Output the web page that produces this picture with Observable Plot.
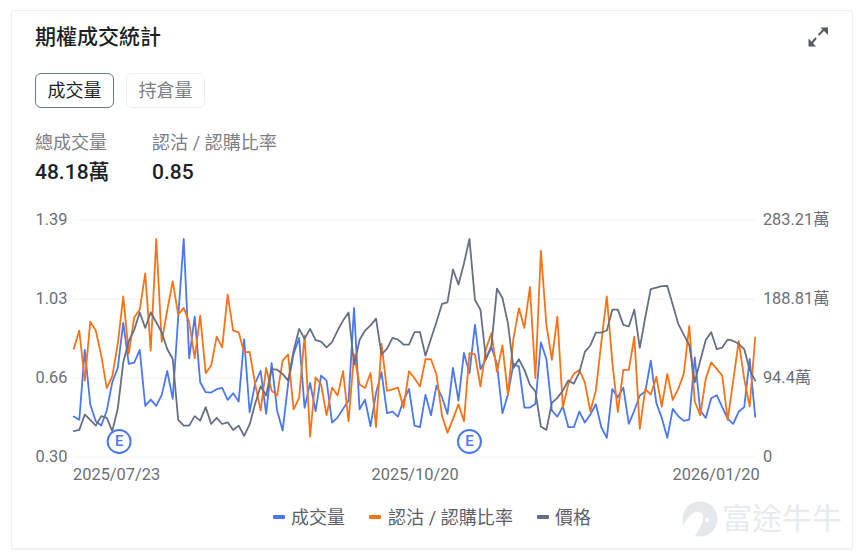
<!DOCTYPE html>
<html>
<head>
<meta charset="utf-8">
<script src="https://cdn.jsdelivr.net/npm/d3@7"></script>
<script src="https://cdn.jsdelivr.net/npm/@observablehq/plot@0.6"></script>
<style>
html,body{margin:0;padding:0;background:#fff;}
body{width:861px;height:556px;position:relative;overflow:hidden;font-family:Roboto,"Noto Sans CJK TC",sans-serif;}
.abs{position:absolute;white-space:nowrap;line-height:1;}
#card{position:absolute;left:11px;top:10px;width:840px;height:537px;border:1px solid #eeeff1;border-radius:2px;box-shadow:0 1px 1px rgba(0,0,0,.04);}
.btn{position:absolute;top:73px;height:35px;box-sizing:border-box;border-radius:6px;font-size:18px;line-height:34px;text-align:center;}
.sw{position:absolute;width:12px;height:4px;top:515px;border-radius:1px;}
#chart{position:absolute;left:0;top:200px;}
#chart svg{display:block;overflow:visible;}
</style>
</head>
<body>
<div id="card"></div>
<div class="abs" style="left:35px;top:27px;font-size:21px;font-weight:500;color:#1c1f24;">期權成交統計</div>
<svg class="abs" style="left:806px;top:25px;" width="24" height="24" viewBox="0 0 24 24">
  <path d="M12.5 10 L18 4.5" stroke="#555a62" stroke-width="2" fill="none"/><path d="M14.5 2.5 H22 V10 Z" fill="#555a62"/>
  <path d="M10 13 L5 19" stroke="#555a62" stroke-width="2" fill="none"/><path d="M2.5 13.5 V21.5 H10 Z" fill="#555a62"/>
</svg>
<div class="btn" style="left:35px;width:79px;border:1.5px solid #6b7690;color:#1c1f24;">成交量</div>
<div class="btn" style="left:126px;width:79px;border:1.5px solid #eeeff1;color:#7a7e86;">持倉量</div>
<div class="abs" style="left:35px;top:134px;font-size:18px;color:#7a7e86;">總成交量</div>
<div class="abs" style="left:152px;top:134px;font-size:18px;color:#7a7e86;letter-spacing:.07px;">認沽 / 認購比率</div>
<div class="abs" style="left:35px;top:162px;font-size:21px;font-weight:500;color:#1c1f24;">48.18萬</div>
<div class="abs" style="left:152px;top:162px;font-size:21px;font-weight:500;color:#1c1f24;">0.85</div>
<div id="chart"></div>
<div class="sw" style="left:273px;background:#4b78f2;"></div>
<div class="abs" style="left:291px;top:509px;font-size:18px;color:#5c6068;">成交量</div>
<div class="sw" style="left:369px;background:#f97316;"></div>
<div class="abs" style="left:388px;top:509px;font-size:18px;color:#5c6068;letter-spacing:.07px;">認沽 / 認購比率</div>
<div class="sw" style="left:537px;background:#667085;"></div>
<div class="abs" style="left:555px;top:509px;font-size:18px;color:#5c6068;">價格</div>
<svg class="abs" style="left:681px;top:500px;" width="38" height="38" viewBox="0 0 38 38">
  <circle cx="19" cy="19" r="17.5" fill="#e6e9ec"/>
  <path d="M3 24 C9 13 15 10 20 13 C25 16 21 24 14 36 L8 33 C5 30 3 27 3 24Z" fill="#fff"/>
  <circle cx="26" cy="20" r="2" fill="#fff"/>
</svg>
<div class="abs" style="left:722px;top:504px;font-size:30px;color:#e8ebee;">富途牛牛</div>
<script>
const volume = [48.5,44.6,128.1,62.9,43.0,37.8,55.7,89.5,106.6,160.3,111.4,113.0,128.1,61.3,68.8,61.3,74.4,103.0,69.6,167.1,260.6,118.1,167.9,89.5,77.6,77.2,81.2,82.7,68.4,76.4,66.4,140.8,53.7,88.3,103.0,51.7,112.2,55.7,31.8,87.5,123.3,142.4,58.9,88.7,54.9,97.5,91.5,41.4,47.3,57.7,67.6,178.2,57.3,68.8,37.0,76.8,101.4,52.5,54.5,48.5,67.6,81.5,37.8,35.8,74.4,50.1,85.5,71.6,51.7,106.6,67.6,124.5,100.2,158.3,105.0,117.3,131.3,111.4,52.5,74.8,111.4,108.2,59.3,59.3,63.6,137.2,117.3,55.7,48.5,60.5,35.8,35.8,54.5,41.4,50.9,63.2,35.8,23.1,81.5,71.6,83.1,39.8,55.7,73.6,78.4,115.4,64.8,46.9,23.1,57.7,48.9,43.4,45.0,119.3,55.7,46.9,70.4,74.0,59.7,45.7,39.8,54.5,59.7,117.3,48.18];
const putCallRatio = [0.798,0.882,0.652,0.923,0.882,0.767,0.617,0.671,0.821,1.039,0.775,0.943,0.977,1.145,0.790,1.303,0.830,0.974,1.108,0.955,0.986,0.920,0.755,0.951,0.686,0.721,0.854,0.805,1.047,0.882,0.874,0.782,0.784,0.637,0.514,0.710,0.606,0.583,0.744,0.772,0.520,0.573,0.859,0.395,0.667,0.634,0.493,0.620,0.583,0.695,0.465,0.772,0.634,0.618,0.687,0.438,0.821,0.605,0.612,0.620,0.527,0.695,0.663,0.625,0.750,0.750,0.680,0.491,0.412,0.476,0.543,0.465,0.778,0.772,0.625,0.798,0.870,0.692,0.814,0.588,0.844,0.984,0.894,1.082,0.664,1.249,0.909,0.747,0.946,0.530,0.637,0.683,0.701,0.644,0.511,0.606,0.828,1.039,0.736,0.507,0.701,0.701,0.854,0.430,0.614,0.588,0.669,0.533,0.683,0.563,0.614,0.683,0.903,0.556,0.493,0.660,0.736,0.706,0.675,0.471,0.652,0.833,0.660,0.533,0.85];
const priceLevel = [11.0,11.5,18.0,15.7,13.3,17.3,16.6,11.0,20.4,40.0,48.9,53.7,61.0,54.5,61.1,56.9,52.7,45.6,41.4,15.7,13.3,13.3,17.3,15.4,21.1,14.0,16.6,14.0,14.7,11.5,13.3,9.0,13.8,22.5,29.9,26.0,37.1,36.9,35.1,32.3,44.9,54.1,49.9,54.1,49.4,48.7,46.3,48.5,53.4,57.6,61.0,39.0,49.4,53.4,55.6,58.4,43.3,45.8,50.3,49.6,47.5,47.5,52.7,52.7,42.8,49.9,57.0,64.6,65.3,79.2,72.8,81.7,92.0,66.4,62.2,41.4,47.1,71.1,67.1,56.5,37.6,41.3,36.8,30.6,27.7,12.9,11.5,22.9,25.0,28.1,32.4,31.0,35.8,44.4,47.1,52.5,52.5,53.4,62.2,62.2,55.8,55.1,62.2,46.1,59.0,70.9,71.5,72.1,72.2,64.3,56.2,51.7,47.3,31.6,40.7,49.4,52.7,45.6,46.2,49.6,49.0,47.8,45.6,36.8,32.3];
const dateLabels = ["2025/07/23","2025/10/20","2026/01/20"];
const dateIndex = [0,62,124];
const volumeTicks = [0,94.4,188.81,283.21];
const volumeTickLabels = ["0","94.4萬","188.81萬","283.21萬"];
const ratioTickLabels = ["0.30","0.66","1.03","1.39"];
const earningsIndex = [8.25,72];
const idx = d3.range(volume.length);
const ratioToVolume = d3.scaleLinear([0.30,1.39],[0,283.21]);
const levelToVolume = d3.scaleLinear([0,100],[0,283.21]);
const vals = {font:"Roboto, 'Noto Sans CJK TC', sans-serif", tick:"#6b6f76"};
const lineOpts = {strokeWidth:1.8, strokeLinejoin:"round", strokeLinecap:"round"};
const chart = Plot.plot({
  width:861, height:290,
  marginLeft:73.3, marginRight:106.3, marginTop:19.5, marginBottom:33.3,
  style:{fontFamily:vals.font, background:"transparent", overflow:"visible"},
  x:{domain:[0,124], axis:null},
  y:{domain:[0,283.21], axis:null},
  marks:[
    Plot.ruleY(volumeTicks,{stroke:"#f2f3f5",strokeWidth:1.2,x1:0,x2:124}),
    Plot.axisY(volumeTicks,{anchor:"left",tickSize:0,tickPadding:0,textAnchor:"start",dx:-38.3,fontSize:16.4,fill:vals.tick,
      tickFormat:(d)=>ratioTickLabels[volumeTicks.indexOf(d)],label:null}),
    Plot.axisY(volumeTicks,{anchor:"right",tickSize:0,tickPadding:0,textAnchor:"start",dx:7.7,fontSize:16.4,fill:vals.tick,
      tickFormat:(d)=>volumeTickLabels[volumeTicks.indexOf(d)],label:null}),
    Plot.text([0],{x:(d)=>dateIndex[d],frameAnchor:"bottom",dy:22.5,dx:-0.8,textAnchor:"start",text:(d)=>dateLabels[d],fontSize:16.4,fill:vals.tick}),
    Plot.text([1],{x:(d)=>dateIndex[d],frameAnchor:"bottom",dy:22.5,dx:0.6,textAnchor:"middle",text:(d)=>dateLabels[d],fontSize:16.4,fill:vals.tick}),
    Plot.text([2],{x:(d)=>dateIndex[d],frameAnchor:"bottom",dy:22.5,dx:4.5,textAnchor:"end",text:(d)=>dateLabels[d],fontSize:16.4,fill:vals.tick}),
    Plot.line(idx,{x:(i)=>i,y:(i)=>volume[i],stroke:"#4b78f2",...lineOpts}),
    Plot.line(idx,{x:(i)=>i,y:(i)=>ratioToVolume(putCallRatio[i]),stroke:"#f97316",...lineOpts}),
    Plot.line(idx,{x:(i)=>i,y:(i)=>levelToVolume(priceLevel[i]),stroke:"#667085",...lineOpts}),
    Plot.dot(earningsIndex,{x:(d)=>d,y:()=>0,dy:-15.7,r:11.5,fill:"#fff",stroke:"#4b78f2",strokeWidth:2}),
    Plot.text(earningsIndex,{x:(d)=>d,y:()=>0,dy:-15.7,text:()=>"E",fontSize:15,fontWeight:500,fill:"#4b78f2"})
  ]
});
document.getElementById("chart").appendChild(chart);
</script>
</body>
</html>
